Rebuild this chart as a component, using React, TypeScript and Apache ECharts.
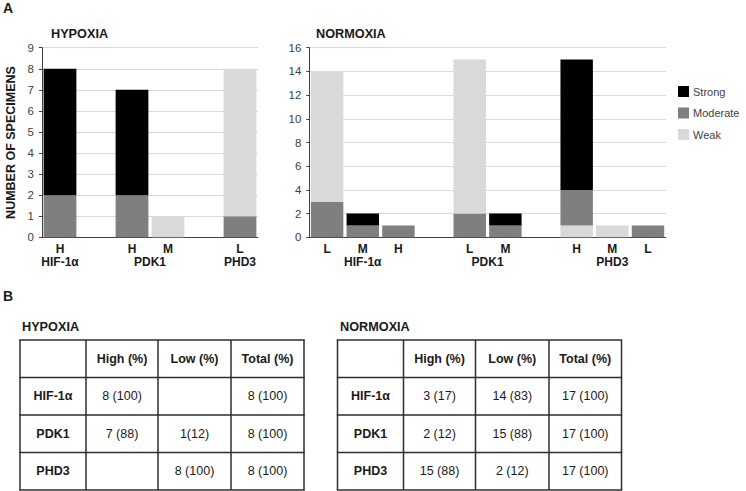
import React, { useEffect, useRef } from 'react';
import * as echarts from 'echarts';

// ---------- Panel A data ----------
const hypCategories = ['H', '', 'H', 'M', '', 'L'];
const hypGroups = ['HIF-1α', 'PDK1', 'PHD3'];
const hypGroupSpans = [[0, 0], [2, 3], [5, 5]];
const hypStrong = [6, null, 5, null, null, null];
const hypModerate = [2, null, 2, null, null, 1];
const hypWeakLow = [null, null, null, 1, null, null];
const hypWeakHigh = [null, null, null, null, null, 7];

const norCategories = ['L', 'M', 'H', '', 'L', 'M', '', 'H', 'M', 'L'];
const norGroups = ['HIF-1α', 'PDK1', 'PHD3'];
const norGroupSpans = [[0, 2], [4, 5], [7, 9]];
const norStrong = [null, 1, null, null, null, 1, null, 11, null, null];
const norModerate = [3, 1, 1, null, 2, 1, null, 3, null, 1];
const norWeakLow = [null, null, null, null, null, null, null, 1, 1, null];
const norWeakHigh = [11, null, null, null, 13, null, null, null, null, null];

const hypYMax = 9;
const hypYInterval = 1;
const norYMax = 16;
const norYInterval = 2;

const legendNames = ['Strong', 'Moderate', 'Weak'];

// ---------- Panel B data ----------
const tableHeader = ['', 'High (%)', 'Low (%)', 'Total (%)'];
const tableRowLabels = ['HIF-1α', 'PDK1', 'PHD3'];
const hypHigh = ['8 (100)', '7 (88)', ''];
const hypLow = ['', '1(12)', '8 (100)'];
const hypTotal = ['8 (100)', '8 (100)', '8 (100)'];
const norHigh = ['3 (17)', '2 (12)', '15 (88)'];
const norLow = ['14 (83)', '15 (88)', '2 (12)'];
const norTotal = ['17 (100)', '17 (100)', '17 (100)'];

// ---------- styles ----------
const FONT = '"Liberation Sans", Arial, Helvetica, sans-serif';
const STRONG = '#000000';
const MODERATE = '#7f7f7f';
const WEAK = '#d9d9d9';
const TEXT = '#1a1a1a';

function groupLabelMap(groups: string[], spans: number[][]) {
  const m: Record<string, string> = {};
  groups.forEach((g, i) => {
    const c = (spans[i][0] + spans[i][1] + 1) / 2;
    m[String(Math.round(c * 2))] = g;
  });
  return m;
}

function tableElements(colX: number[], rowY: number[], cols: string[][]) {
  const els: any[] = [];
  const lineStyle = { stroke: '#2e2e2e', lineWidth: 1.5 };
  rowY.forEach((y) =>
    els.push({ type: 'line', shape: { x1: colX[0] - 0.75, y1: y, x2: colX[colX.length - 1] + 0.75, y2: y }, style: lineStyle })
  );
  colX.forEach((x) =>
    els.push({ type: 'line', shape: { x1: x, y1: rowY[0], x2: x, y2: rowY[rowY.length - 1] }, style: lineStyle })
  );
  const cx = (i: number) => (colX[i] + colX[i + 1]) / 2;
  const cy = (j: number) => (rowY[j] + rowY[j + 1]) / 2;
  const txt = (s: string, x: number, y: number, bold: boolean) => ({
    type: 'text',
    style: {
      text: s,
      x,
      y,
      font: `${bold ? 'bold ' : ''}12.5px ${FONT}`,
      fill: TEXT,
      textAlign: 'center',
      textVerticalAlign: 'middle',
    },
  });
  tableHeader.forEach((h, i) => {
    if (h) els.push(txt(h, cx(i), cy(0), true));
  });
  tableRowLabels.forEach((r, j) => els.push(txt(r, cx(0), cy(j + 1), true)));
  cols.forEach((col, i) =>
    col.forEach((v, j) => {
      if (v) els.push(txt(v, cx(i + 1), cy(j + 1), false));
    })
  );
  return els;
}

const plainText = (s: string, x: number, y: number, size: number, align = 'left') => ({
  type: 'text',
  style: {
    text: s,
    x,
    y,
    font: `bold ${size}px ${FONT}`,
    fill: TEXT,
    textAlign: align,
    textVerticalAlign: 'middle',
  },
});

export default function App() {
  const ref = useRef<HTMLDivElement>(null);

  useEffect(() => {
    if (!ref.current) return;
    const chart = echarts.init(ref.current, null, { renderer: 'svg' });

    const hypGroupMap = groupLabelMap(hypGroups, hypGroupSpans);
    const norGroupMap = groupLabelMap(norGroups, norGroupSpans);

    const catAxis = (data: string[], gridIndex: number) => ({
      type: 'category',
      gridIndex,
      data,
      position: 'bottom',
      axisLine: { show: true, lineStyle: { color: '#404040', width: 1 } },
      axisTick: { show: false },
      axisLabel: { interval: 0, margin: 6, fontFamily: FONT, fontSize: 12, fontWeight: 'bold', color: TEXT },
      splitLine: { show: false },
    });
    const groupAxis = (n: number, map: Record<string, string>, gridIndex: number) => ({
      type: 'value',
      gridIndex,
      position: 'bottom',
      min: 0,
      max: n,
      interval: 0.5,
      axisLine: { show: false },
      axisTick: { show: false },
      splitLine: { show: false },
      axisLabel: {
        margin: 19,
        fontFamily: FONT,
        fontSize: 12,
        fontWeight: 'bold',
        color: TEXT,
        showMinLabel: true,
        showMaxLabel: true,
        formatter: (v: number) => map[String(Math.round(v * 2))] || '',
      },
    });
    const valAxis = (max: number, interval: number, gridIndex: number, name?: string) => ({
      type: 'value',
      gridIndex,
      min: 0,
      max,
      interval,
      name: name || '',
      nameLocation: 'middle',
      nameRotate: 90,
      nameGap: 25,
      nameTextStyle: { fontFamily: FONT, fontSize: 12.5, fontWeight: 'bold', color: TEXT },
      axisLine: { show: true, lineStyle: { color: '#404040', width: 1 } },
      axisTick: { show: true, length: 3, lineStyle: { color: '#404040' } },
      axisLabel: { margin: 8, fontFamily: FONT, fontSize: 11.5, color: '#404040' },
      splitLine: { show: true, lineStyle: { color: '#d9d9d9', width: 1 } },
    });

    const barSeries = (name: string, data: any[], color: string, stack: string, xi: number, yi: number) => ({
      name,
      type: 'bar',
      stack,
      xAxisIndex: xi,
      yAxisIndex: yi,
      data,
      barCategoryGap: '9%',
      itemStyle: { color },
      emphasis: { disabled: true },
    });

    const option: any = {
      animation: false,
      textStyle: { fontFamily: FONT },
      grid: [
        { left: 42, top: 47.7, width: 216, height: 189.6, outerBoundsMode: 'none', containLabel: false },
        { left: 309.3, top: 47.7, width: 356.5, height: 189.6, outerBoundsMode: 'none', containLabel: false },
      ],
      xAxis: [
        catAxis(hypCategories, 0),
        groupAxis(hypCategories.length, hypGroupMap, 0),
        catAxis(norCategories, 1),
        groupAxis(norCategories.length, norGroupMap, 1),
      ],
      yAxis: [
        valAxis(hypYMax, hypYInterval, 0, 'NUMBER OF SPECIMENS'),
        valAxis(norYMax, norYInterval, 1),
      ],
      legend: {
        data: legendNames,
        orient: 'vertical',
        left: 678,
        top: 86,
        padding: 0,
        icon: 'rect',
        itemWidth: 11,
        itemHeight: 11,
        itemGap: 10.5,
        selectedMode: false,
        textStyle: { fontFamily: FONT, fontSize: 11, color: '#404040', padding: [0, 0, 0, -1] },
      },
      series: [
        barSeries('Weak', hypWeakLow, WEAK, 'hyp', 0, 0),
        barSeries('Moderate', hypModerate, MODERATE, 'hyp', 0, 0),
        barSeries('Weak', hypWeakHigh, WEAK, 'hyp', 0, 0),
        barSeries('Strong', hypStrong, STRONG, 'hyp', 0, 0),
        barSeries('Weak', norWeakLow, WEAK, 'nor', 2, 1),
        barSeries('Moderate', norModerate, MODERATE, 'nor', 2, 1),
        barSeries('Weak', norWeakHigh, WEAK, 'nor', 2, 1),
        barSeries('Strong', norStrong, STRONG, 'nor', 2, 1),
      ],
      graphic: {
        elements: [
          plainText('A', 3, 8, 14),
          plainText('HYPOXIA', 51, 33.5, 12.7),
          plainText('NORMOXIA', 316, 33.5, 12.7),
          plainText('B', 3, 295.5, 14),
          plainText('HYPOXIA', 22, 326.7, 12.7),
          plainText('NORMOXIA', 340, 326.7, 12.7),
          ...tableElements([20, 86, 158, 231, 304], [340, 377.5, 415, 452.5, 490], [hypHigh, hypLow, hypTotal]),
          ...tableElements([337.5, 403.5, 475.5, 549, 621.5], [340, 377.5, 415, 452.5, 490], [norHigh, norLow, norTotal]),
        ],
      },
    };

    chart.setOption(option);
    return () => chart.dispose();
  }, []);

  return (
    <div
      ref={ref}
      style={{ position: 'absolute', left: 0, top: 0, width: 746, height: 491, background: '#ffffff' }}
    />
  );
}
